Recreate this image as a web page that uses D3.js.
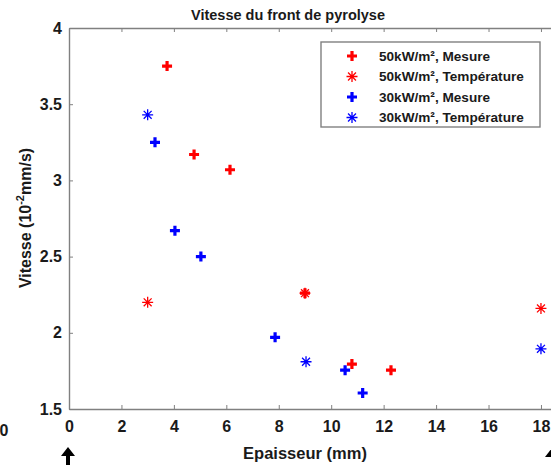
<!DOCTYPE html>
<html>
<head>
<meta charset="utf-8">
<script src="https://cdn.jsdelivr.net/npm/d3@7"></script>
<style>
  body { margin: 0; background: #fff; }
  svg { font-family: 'Liberation Sans', Arial, sans-serif; }
</style>
</head>
<body>
<div id="chart"></div>
<script>
// thickness (mm) / speed (10^-2 mm/s)
const mesure50 = [
  { x: 3.74, y: 3.75 }, { x: 4.77, y: 3.17 }, { x: 6.14, y: 3.07 },
  { x: 9.0, y: 2.26 }, { x: 10.79, y: 1.795 }, { x: 12.28, y: 1.755 }
];
const temp50 = [
  { x: 3.0, y: 2.2 }, { x: 9.0, y: 2.26 }, { x: 18.0, y: 2.16 }
];
const mesure30 = [
  { x: 3.28, y: 3.25 }, { x: 4.04, y: 2.67 }, { x: 5.03, y: 2.5 },
  { x: 7.86, y: 1.97 }, { x: 10.53, y: 1.755 }, { x: 11.2, y: 1.605 }
];
const temp30 = [
  { x: 3.0, y: 3.43 }, { x: 9.04, y: 1.81 }, { x: 18.0, y: 1.895 }
];

const xTicks = [0, 2, 4, 6, 8, 10, 12, 14, 16, 18];
const yTicks = [1.5, 2, 2.5, 3, 3.5, 4];

const series = [
  { name: '50kW/m\u00b2, Mesure', data: mesure50, color: '#ff0000', shape: 'plus' },
  { name: '50kW/m\u00b2, Temp\u00e9rature', data: temp50, color: '#ff0000', shape: 'star' },
  { name: '30kW/m\u00b2, Mesure', data: mesure30, color: '#0000ff', shape: 'plus' },
  { name: '30kW/m\u00b2, Temp\u00e9rature', data: temp30, color: '#0000ff', shape: 'star' }
];

const W = 551, H = 465;
const mLeft = 69, mTop = 28, mBottom = 409;
const x = d3.scaleLinear().domain([0, 20]).range([mLeft, mLeft + 524.4]);
const y = d3.scaleLinear().domain([1.5, 4]).range([mBottom, mTop]);

const svg = d3.select('#chart').append('svg')
  .attr('width', W).attr('height', H);

const axisCol = '#808080';
const txtCol = '#1a1a1a';

// axes (MATLAB style: ticks inside, box on)
const xb = svg.append('g').attr('transform', 'translate(0,' + mBottom + ')')
  .call(d3.axisBottom(x).tickValues(xTicks).tickSizeInner(-4).tickSizeOuter(0).tickPadding(12));
const xt = svg.append('g').attr('transform', 'translate(0,' + mTop + ')')
  .call(d3.axisTop(x).tickValues(xTicks).tickSizeInner(-4).tickSizeOuter(0).tickFormat(''));
const yl = svg.append('g').attr('transform', 'translate(' + mLeft + ',0)')
  .call(d3.axisLeft(y).tickValues(yTicks).tickSizeInner(-4).tickSizeOuter(0).tickPadding(7).tickFormat(d3.format('')));

[xb, xt, yl].forEach(g => {
  g.select('.domain').attr('stroke', axisCol).attr('stroke-width', 1.4);
  g.selectAll('.tick line').attr('stroke', axisCol);
  g.selectAll('.tick text').attr('fill', txtCol).style('font-size', '16px').style('font-weight', 'bold')
    .style('font-family', "'Liberation Sans', Arial, sans-serif");
});

// markers
const plusPath = s => 'M' + (-s) + ',0H' + s + 'M0,' + (-s) + 'V' + s;
const starPath = s => {
  const d = s * 0.72;
  return plusPath(s) + 'M' + (-d) + ',' + (-d) + 'L' + d + ',' + d + 'M' + (-d) + ',' + d + 'L' + d + ',' + (-d);
};
function marker(sel, shape, color) {
  sel.append('path')
    .attr('d', shape === 'plus' ? plusPath(5) : starPath(5.5))
    .attr('fill', 'none')
    .attr('stroke', color)
    .attr('stroke-width', shape === 'plus' ? 3.2 : 1.3);
}

series.forEach(s => {
  svg.append('g').selectAll('g').data(s.data).enter().append('g')
    .attr('transform', d => 'translate(' + x(d.x) + ',' + y(d.y) + ')')
    .each(function () { marker(d3.select(this), s.shape, s.color); });
});

// legend
const lg = svg.append('g').attr('transform', 'translate(321,42)');
lg.append('rect').attr('width', 219).attr('height', 85)
  .attr('fill', '#fff').attr('stroke', axisCol).attr('stroke-width', 1.4);
series.forEach((s, i) => {
  const row = lg.append('g').attr('transform', 'translate(0,' + (14 + i * 20.5) + ')');
  row.append('g').attr('transform', 'translate(31,0)').call(g => marker(g, s.shape, s.color));
  row.append('text').attr('x', 58).attr('dy', '0.36em')
    .style('font-size', '13.6px').style('font-weight', 'bold').attr('fill', txtCol)
    .text(s.name);
});

// titles
svg.append('text').attr('x', 288).attr('y', 20).attr('text-anchor', 'middle')
  .style('font-size', '14.5px').style('font-weight', 'bold').attr('fill', txtCol).text('Vitesse du front de pyrolyse');
svg.append('text').attr('x', 305).attr('y', 459).attr('text-anchor', 'middle')
  .style('font-size', '16.5px').style('font-weight', 'bold').attr('fill', txtCol).text('Epaisseur (mm)');
const ylab = svg.append('text').attr('transform', 'translate(31,' + 218 + ') rotate(-90)')
  .attr('text-anchor', 'middle').style('font-size', '16px').style('font-weight', 'bold').attr('fill', txtCol);
ylab.append('tspan').text('Vitesse (10');
ylab.append('tspan').attr('dy', -7).style('font-size', '11px').text('-2');
ylab.append('tspan').attr('dy', 7).text('mm/s)');

// leftover bits from the neighbouring figure
svg.append('text').attr('x', 4).attr('y', 436).attr('text-anchor', 'middle')
  .style('font-size', '16px').style('font-weight', 'bold').attr('fill', txtCol).text('0');
svg.append('path').attr('d', 'M68,447 L61,456 L66,456 L66,465 L70,465 L70,456 L75,456 Z').attr('fill', '#000');
svg.append('path').attr('d', 'M552,448 L545,457 L552,457 Z').attr('fill', '#000');
</script>
</body>
</html>
